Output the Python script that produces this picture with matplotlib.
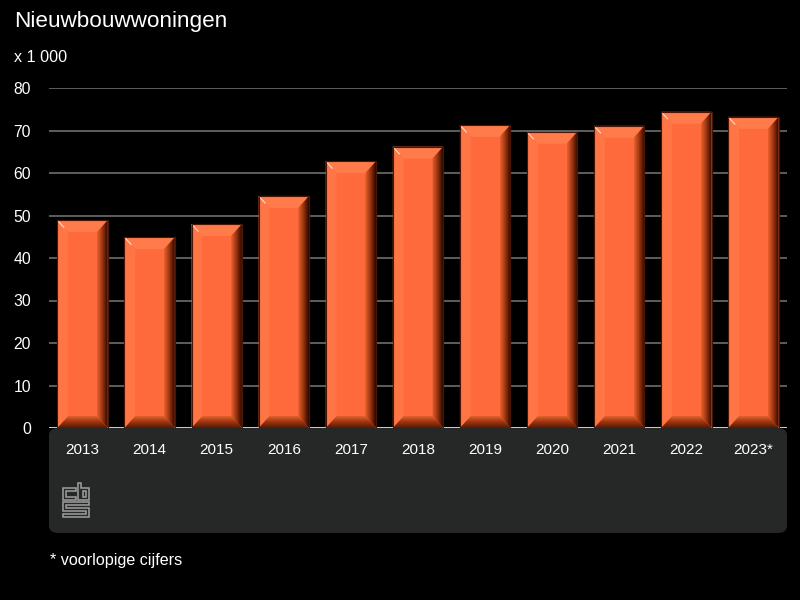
import matplotlib
matplotlib.use("Agg")
import matplotlib.pyplot as plt
import numpy as np
from matplotlib.patches import Polygon, FancyBboxPatch
from matplotlib.colors import LinearSegmentedColormap
from matplotlib.lines import Line2D

years = ["2013", "2014", "2015", "2016", "2017", "2018", "2019", "2020", "2021", "2022", "2023*"]
values = [48.9, 44.9, 48.0, 54.6, 62.8, 66.2, 71.3, 69.7, 71.1, 74.4, 73.2]
yticks = [0, 10, 20, 30, 40, 50, 60, 70, 80]

plt.rcParams['font.family'] = ['Liberation Sans', 'DejaVu Sans']

fig = plt.figure(figsize=(8, 6), dpi=100, facecolor='black')

# grey panel under the axis
panel = FancyBboxPatch((49 / 800, (600 - 533) / 600), 738 / 800, 105 / 600,
                       boxstyle="round,pad=0,rounding_size=0.012",
                       transform=fig.transFigure, facecolor='#262727',
                       edgecolor='none', zorder=-5)
fig.patches.append(panel)

ax = fig.add_axes([49 / 800, (600 - 428) / 600, 738 / 800, 340 / 600], zorder=2)
ax.set_facecolor('none')
ax.set_xlim(-0.5, len(years) - 0.5)
ax.set_ylim(0, 80)
for s in ax.spines.values():
    s.set_visible(False)
ax.set_yticks(yticks)
ax.yaxis.grid(True, color='#6e6e6e', lw=1.2)
ax.set_axisbelow(True)
ax.tick_params(axis='y', length=0, pad=13, labelcolor='white', labelsize=11.3)
ax.tick_params(axis='x', length=0, pad=11, labelcolor='white', labelsize=11)
for lab in ax.get_yticklabels():
    lab.set_horizontalalignment('right')

x = np.arange(len(years))
bw = 0.75
bars = ax.bar(x, values, width=bw, color='#FF6A3C', edgecolor='#5a1a05',
              linewidth=0.8, zorder=2)
ax.set_xticks(x)
ax.set_xticklabels(years)
ax.axhline(0, color='#d8d8d8', lw=2, zorder=3)

# bevel sizes in data units
bx = 0.16   # horizontal bevel
by = 2.8    # vertical bevel

right_cmap = LinearSegmentedColormap.from_list('r', ['#E8602E', '#9a3410', '#2a0800'])
bot_cmap = LinearSegmentedColormap.from_list('b', ['#5a1a05', '#9a3410', '#E0602C'])

for b in bars:
    x0 = b.get_x()
    w = b.get_width()
    h = b.get_height()
    x1 = x0 + w
    # top bevel
    ax.add_patch(Polygon([(x0, h), (x1, h), (x1 - bx, h - by), (x0 + bx, h - by)],
                         closed=True, facecolor='#FF7B4B', edgecolor='none', zorder=3))
    # left bevel
    ax.add_patch(Polygon([(x0, h), (x0 + bx, h - by), (x0 + bx, by), (x0, 0)],
                         closed=True, facecolor='#FF7545', edgecolor='none', zorder=3))
    # right bevel gradient
    rp = Polygon([(x1, h), (x1 - bx, h - by), (x1 - bx, by), (x1, 0)],
                 closed=True, facecolor='none', edgecolor='none', zorder=3)
    ax.add_patch(rp)
    grad = np.linspace(0, 1, 32).reshape(1, -1)
    im = ax.imshow(grad, cmap=right_cmap, aspect='auto',
                   extent=(x1 - bx, x1, 0, h), zorder=3, interpolation='bilinear')
    im.set_clip_path(rp)
    # bottom bevel gradient
    bp = Polygon([(x0, 0), (x0 + bx, by), (x1 - bx, by), (x1, 0)],
                 closed=True, facecolor='none', edgecolor='none', zorder=4)
    ax.add_patch(bp)
    gradv = np.linspace(0, 1, 32).reshape(-1, 1)
    im2 = ax.imshow(gradv, cmap=bot_cmap, aspect='auto', origin='lower',
                    extent=(x0, x1, 0, by), zorder=4, interpolation='bilinear')
    im2.set_clip_path(bp)
    # highlight at top-left corner
    ax.add_line(Line2D([x0 + 0.01, x0 + bx * 0.6], [h - 0.2, h - by * 0.6],
                       color='#ffe0d0', lw=0.8, zorder=5))
    # outline
    ax.add_patch(Polygon([(x0, 0), (x0, h), (x1, h), (x1, 0)], closed=True,
                         facecolor='none', edgecolor='#4a1505', lw=0.8, zorder=6))

# texts
fig.text(14 / 800, 1 - 22 / 600, "Nieuwbouwwoningen", color='white',
         fontsize=16.2, va='center', ha='left')
fig.text(14 / 800, 1 - 58 / 600, "x 1 000", color='white',
         fontsize=11.6, va='center', ha='left')
fig.text(50 / 800, 1 - 560 / 600, "* voorlopige cijfers", color='white',
         fontsize=11.6, va='center', ha='left')

# cbs logo outline (figure pixel coords)
def px(pts):
    return [(a / 800, 1 - b / 600) for a, b in pts]

logo_polys = [
    [(76, 488), (63, 488), (63, 500), (76, 500), (76, 497), (66, 497), (66, 491), (76, 491)],
    [(78, 483), (81, 483), (81, 488), (89, 488), (89, 500), (78, 500)],
    [(83, 491), (86, 491), (86, 497), (83, 497)],
    [(89, 502), (63, 502), (63, 511), (86, 511), (86, 514), (63, 514), (63, 517),
     (89, 517), (89, 508), (66, 508), (66, 505), (89, 505)],
]
for poly in logo_polys:
    fig.patches.append(Polygon(px(poly), closed=True, facecolor='none',
                               edgecolor='#a0a0a0', lw=1.1,
                               transform=fig.transFigure, zorder=1))

fig.savefig("out.png", dpi=100, facecolor='black')
